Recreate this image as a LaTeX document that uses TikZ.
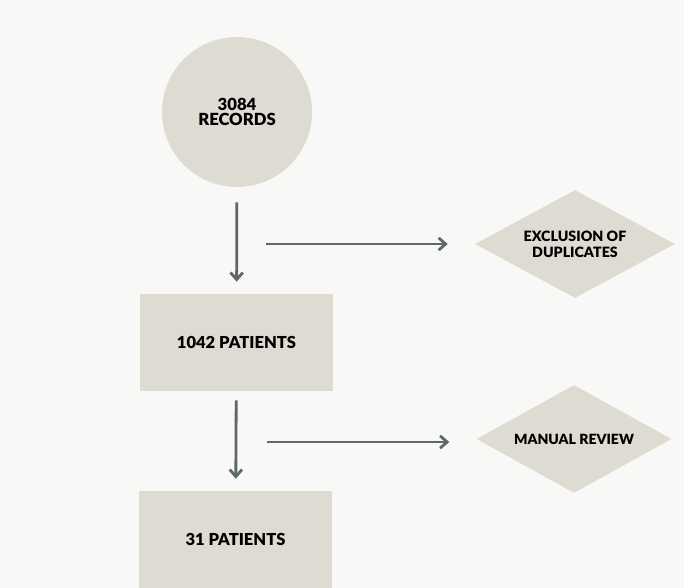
\documentclass[tikz,border=0pt]{standalone}
\usepackage{fontspec}
\setmainfont{Lato}[BoldFont={Lato Black}]
\usetikzlibrary{shapes.geometric,arrows.meta}

\definecolor{bgcol}{HTML}{F8F8F6}
\definecolor{boxcol}{HTML}{DEDCD2}
\definecolor{arrowcol}{HTML}{5E686B}

\begin{document}
\begin{tikzpicture}[x=0.02cm, y=-0.02cm]
        \fill[bgcol] (0,0) rectangle (684,588);
        \useasboundingbox (0,0) rectangle (684,588);
        \begin{scope}[every node/.style={fill=boxcol, inner sep=0, align=center, font=\bfseries}]
            \node[circle, minimum size=3cm, font=\bfseries\fontsize{9.5}{8.6}\selectfont] (Records) at (237,112) {3084\\RECORDS};
            \node[rectangle, minimum width=3.86cm, minimum height=1.94cm, font=\bfseries\fontsize{9.4}{10}\selectfont] (Patients1) at (236.5,342.5) {1042 PATIENTS};
            \node[rectangle, minimum width=3.86cm, minimum height=1.94cm, font=\bfseries\fontsize{9.4}{10}\selectfont] (Patients2) at (235.5,539.5) {31 PATIENTS};
            \node[diamond, aspect=1.85, minimum width=4cm, minimum height=2.16cm, font=\bfseries\fontsize{8.1}{9}\selectfont] (Duplicates) at (575,244) {EXCLUSION OF\\DUPLICATES};
            \node[diamond, aspect=1.85, minimum width=3.9cm, minimum height=2.16cm, font=\bfseries\fontsize{8}{9}\selectfont] (Review) at (574,439) {MANUAL REVIEW};
        \end{scope}
        \coordinate (Split1) at (266,244);
        \coordinate (Split2) at (267,442);
        \begin{scope}[every edge/.style={draw=arrowcol, line width=1.6pt, ->, >={Straight Barb[length=4pt,width=7pt]}}]
            \path (Records) edge [shorten <=15*0.567pt, shorten >=12*0.567pt] (Patients1);
            \path (Patients1) edge [shorten <=9*0.567pt, shorten >=12*0.567pt] (Patients2);
            \path (Split1) edge [shorten >=27*0.567pt] (Split1 -| Duplicates.west);
            \path (Split2) edge [shorten >=27*0.567pt] (Split2 -| Review.west);
        \end{scope}
    \end{tikzpicture}
\end{document}
